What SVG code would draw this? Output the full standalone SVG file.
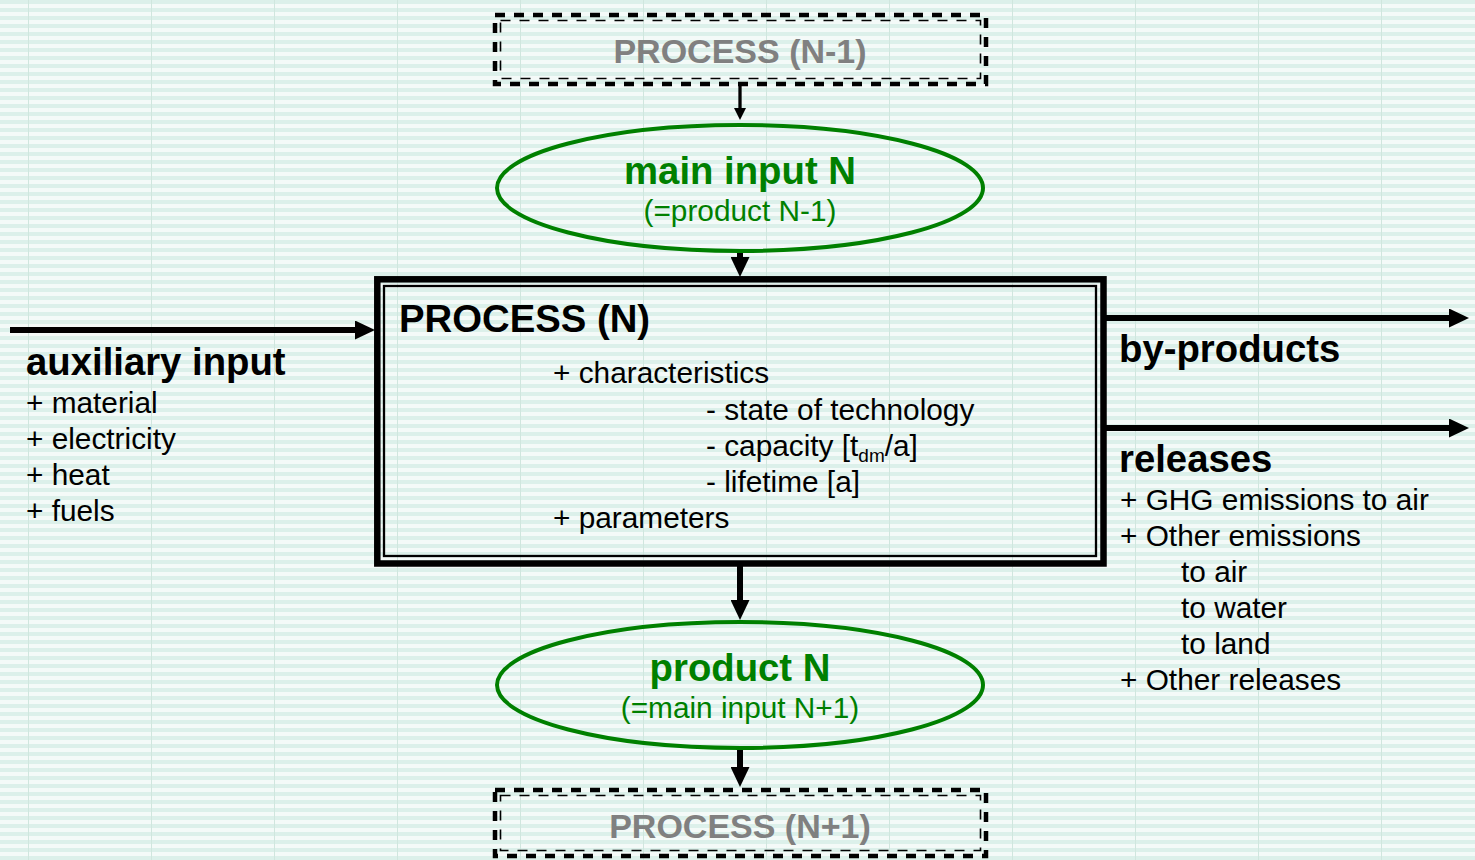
<svg xmlns="http://www.w3.org/2000/svg" width="1475" height="860" viewBox="0 0 1475 860">
  <style>
    text { font-family: "Liberation Sans", Arial, sans-serif; }
    .bold { font-weight: bold; font-size: 38.3px; fill: #000; }
    .reg { font-size: 29.8px; fill: #000; }
    .gray { font-weight: bold; font-size: 34px; fill: #808080; }
    .gbold { font-weight: bold; font-size: 38.3px; fill: #008000; }
    .greg { font-size: 29.8px; fill: #008000; }
    .ell { fill: none; stroke: #008000; stroke-width: 4; }
    .dashO { fill: none; stroke: #000; stroke-width: 4.5; stroke-dasharray: 10 9; }
    .dashI { fill: none; stroke: #000; stroke-width: 1.6; stroke-dasharray: 10 9; }
    .thick { stroke: #000; stroke-width: 6; fill: none; }
    .thin { stroke: #000; stroke-width: 3.3; fill: none; }
  </style>
  <defs>
    <pattern id="bg" patternUnits="userSpaceOnUse" x="28" y="0" width="123" height="8">
      <rect width="123" height="8" fill="#f4faf8"/>
      <rect y="0" width="123" height="4" fill="#dcf0ea"/>
      <rect x="0" y="0" width="1" height="8" fill="#d0e6de"/>
    </pattern>
    <marker id="ahThick" viewBox="0 0 20 19" refX="5" refY="9.5" markerWidth="20" markerHeight="19" markerUnits="userSpaceOnUse" orient="auto">
      <path d="M0,0 L20,9.5 L0,19 Z" fill="#000"/>
    </marker>
    <marker id="ahThin" viewBox="0 0 12 12" refX="3" refY="6" markerWidth="12" markerHeight="12" markerUnits="userSpaceOnUse" orient="auto">
      <path d="M0,0 L12,6 L0,12 Z" fill="#000"/>
    </marker>
  </defs>

  <rect width="1475" height="860" fill="url(#bg)"/>

  <g id="connectors">
    <line class="thin" x1="740" y1="86" x2="740" y2="111" marker-end="url(#ahThin)"/>
    <line class="thick" x1="740" y1="250" x2="740" y2="262" marker-end="url(#ahThick)"/>
    <line class="thick" x1="10" y1="330" x2="360" y2="330" marker-end="url(#ahThick)"/>
    <line class="thick" x1="1106" y1="318" x2="1454" y2="318" marker-end="url(#ahThick)"/>
    <line class="thick" x1="1106" y1="428" x2="1454" y2="428" marker-end="url(#ahThick)"/>
    <line class="thick" x1="740" y1="566" x2="740" y2="605" marker-end="url(#ahThick)"/>
    <line class="thick" x1="740" y1="748" x2="740" y2="772" marker-end="url(#ahThick)"/>
  </g>

  <g id="process-n-minus-1">
    <rect class="dashO" x="495" y="15" width="491" height="69"/>
    <rect class="dashI" x="500.5" y="20.5" width="480" height="58"/>
    <text class="gray" x="740" y="63" text-anchor="middle">PROCESS (N-1)</text>
  </g>

  <g id="main-input-n">
    <ellipse class="ell" cx="740" cy="188" rx="243" ry="63"/>
    <text class="gbold" x="740" y="184" text-anchor="middle">main input N</text>
    <text class="greg" x="740" y="221" text-anchor="middle">(=product N-1)</text>
  </g>

  <g id="process-n">
    <rect x="377.3" y="279.3" width="726.2" height="284.2" fill="none" stroke="#000" stroke-width="6.5"/>
    <rect x="384" y="286" width="712" height="270" fill="none" stroke="#000" stroke-width="2.3"/>
    <text class="bold" x="399" y="332">PROCESS (N)</text>
    <text class="reg" x="553" y="383">+ characteristics</text>
    <text class="reg" x="706" y="420">- state of technology</text>
    <text class="reg" x="706" y="456">- capacity [t<tspan font-size="19" dy="6">dm</tspan><tspan dy="-6">/a]</tspan></text>
    <text class="reg" x="706" y="492">- lifetime [a]</text>
    <text class="reg" x="553" y="528">+ parameters</text>
  </g>

  <g id="auxiliary-input">
    <text class="bold" x="26" y="375">auxiliary input</text>
    <text class="reg" x="26" y="413">+ material</text>
    <text class="reg" x="26" y="449">+ electricity</text>
    <text class="reg" x="26" y="485">+ heat</text>
    <text class="reg" x="26" y="521">+ fuels</text>
  </g>

  <g id="by-products">
    <text class="bold" x="1119" y="362">by-products</text>
  </g>

  <g id="releases">
    <text class="bold" x="1119" y="472">releases</text>
    <text class="reg" x="1120" y="510">+ GHG emissions to air</text>
    <text class="reg" x="1120" y="546">+ Other emissions</text>
    <text class="reg" x="1181" y="582">to air</text>
    <text class="reg" x="1181" y="618">to water</text>
    <text class="reg" x="1181" y="654">to land</text>
    <text class="reg" x="1120" y="690">+ Other releases</text>
  </g>

  <g id="product-n">
    <ellipse class="ell" cx="740" cy="685" rx="243" ry="63"/>
    <text class="gbold" x="740" y="681" text-anchor="middle">product N</text>
    <text class="greg" x="740" y="718" text-anchor="middle">(=main input N+1)</text>
  </g>

  <g id="process-n-plus-1">
    <rect class="dashO" x="495" y="790" width="491" height="66"/>
    <rect class="dashI" x="500.5" y="795.5" width="480" height="55"/>
    <text class="gray" x="740" y="838" text-anchor="middle">PROCESS (N+1)</text>
  </g>
</svg>
